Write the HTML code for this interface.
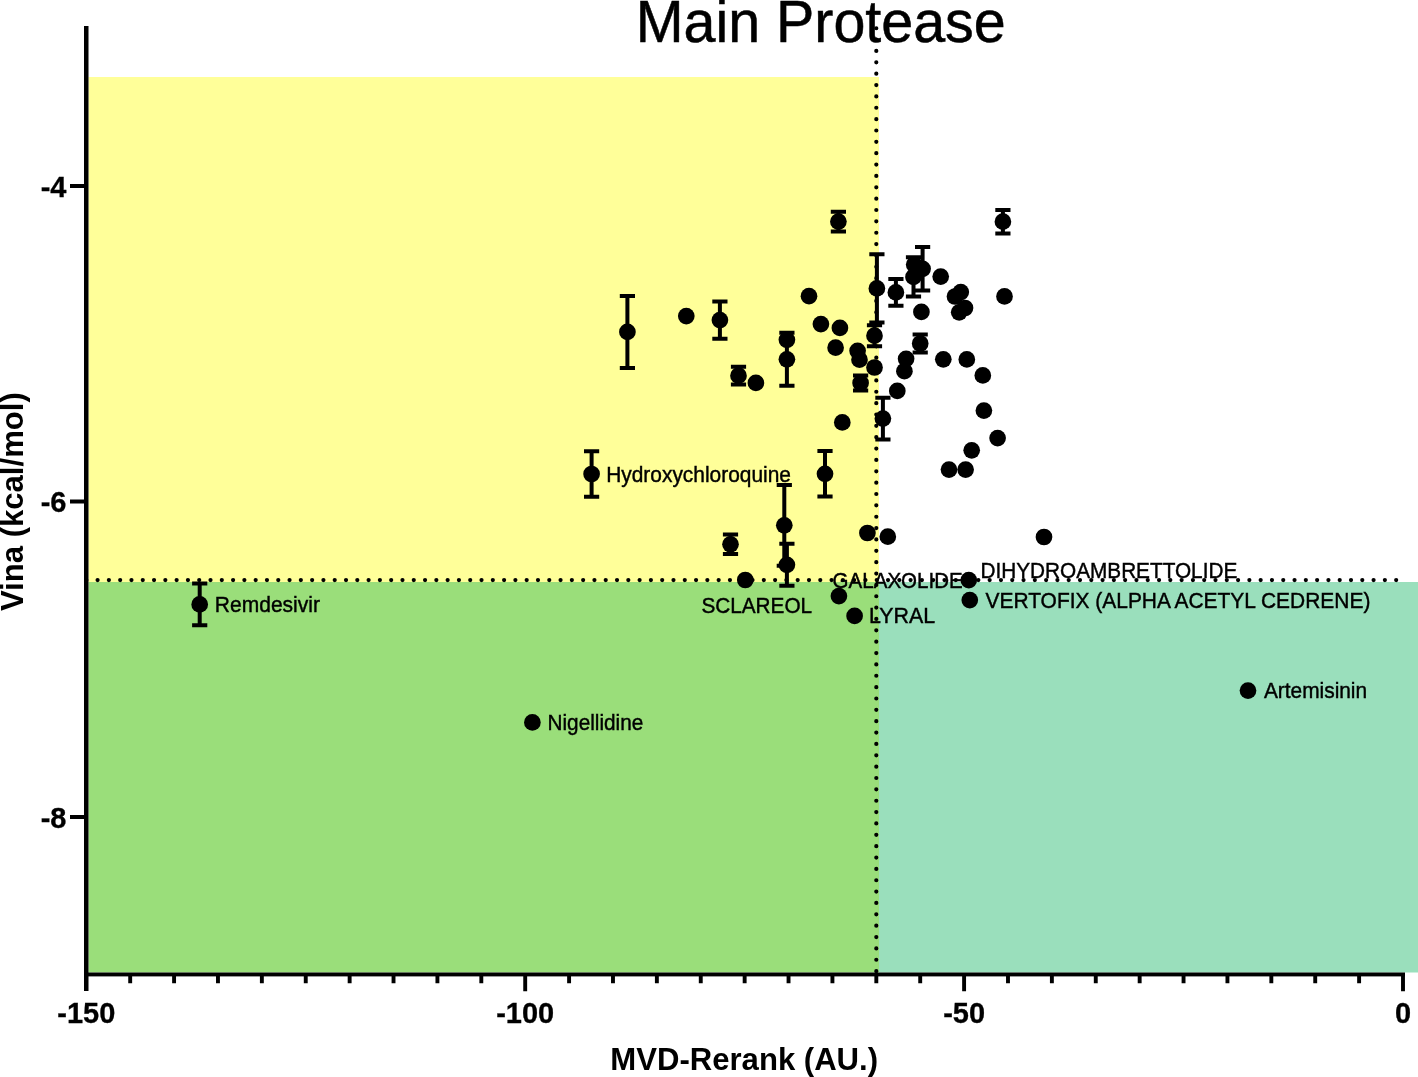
<!DOCTYPE html>
<html><head><meta charset="utf-8"><title>Main Protease</title>
<style>
html,body{margin:0;padding:0;background:#fff;width:1418px;height:1077px;overflow:hidden}
svg{display:block;will-change:transform}
text{font-family:'Liberation Sans', sans-serif;fill:#000}
.lb{font-size:20.75px;stroke:#000;stroke-width:0.4px}
.tk{font-size:29px;font-weight:bold;stroke:#000;stroke-width:0.3px}
</style></head><body>
<svg width="1418" height="1077" viewBox="0 0 1418 1077">
<rect x="0" y="0" width="1418" height="1077" fill="#fff"/>

<rect x="88.5" y="77" width="790.5" height="505" fill="#ffff99"/>
<rect x="88.5" y="582" width="790.5" height="390.5" fill="#9ade7a"/>
<rect x="879" y="582" width="539" height="390.5" fill="#9adfbc"/>
<line x1="86.30" y1="580.1" x2="1403.00" y2="580.1" stroke="#000" stroke-width="4.2" stroke-linecap="round" stroke-dasharray="0 11.292"/>
<line x1="876.3" y1="28.25" x2="876.3" y2="974.75" stroke="#000" stroke-width="4.2" stroke-linecap="round" stroke-dasharray="0 11.36"/>
<text class="lb" transform="translate(606.18 481.70) scale(1.0078 1.06)">Hydroxychloroquine</text>
<text class="lb" transform="translate(701.40 612.80) scale(1.0009 1.06)">SCLAREOL</text>
<text class="lb" transform="translate(832.61 587.80) scale(0.9900 1.06)">GALAXOLIDE</text>
<text class="lb" transform="translate(869.04 622.70) scale(1.0323 1.06)">LYRAL</text>
<text class="lb" transform="translate(980.40 577.80) scale(1.0016 1.06)">DIHYDROAMBRETTOLIDE</text>
<text class="lb" transform="translate(985.50 607.80) scale(1.0100 1.06)">VERTOFIX (ALPHA ACETYL CEDRENE)</text>
<text class="lb" transform="translate(214.87 611.90) scale(1.0129 1.06)">Remdesivir</text>
<text class="lb" transform="translate(547.50 729.60) scale(1.0011 1.06)">Nigellidine</text>
<text class="lb" transform="translate(1263.90 698.00) scale(1.0059 1.06)">Artemisinin</text>
<g fill="#000" stroke="#000">
<path d="M627.4 295.9V367.9M619.8 295.9H635.0M619.8 367.9H635.0" fill="none" stroke-width="4"/>
<circle cx="627.4" cy="331.9" r="8.35" stroke="none"/>
<circle cx="686.3" cy="316.1" r="8.35" stroke="none"/>
<path d="M719.9 301.5V338.7M712.3 301.5H727.5M712.3 338.7H727.5" fill="none" stroke-width="4"/>
<circle cx="719.9" cy="320.1" r="8.35" stroke="none"/>
<path d="M738.5 366.8V384.6M730.9 366.8H746.1M730.9 384.6H746.1" fill="none" stroke-width="4"/>
<circle cx="738.5" cy="375.7" r="8.35" stroke="none"/>
<circle cx="755.9" cy="382.9" r="8.35" stroke="none"/>
<circle cx="786.9" cy="339.8" r="8.35" stroke="none"/>
<path d="M786.9 332.8V385.8M779.3 332.8H794.5M779.3 385.8H794.5" fill="none" stroke-width="4"/>
<circle cx="786.9" cy="359.3" r="8.35" stroke="none"/>
<circle cx="809.0" cy="296.2" r="8.35" stroke="none"/>
<circle cx="820.9" cy="324.1" r="8.35" stroke="none"/>
<circle cx="839.9" cy="327.9" r="8.35" stroke="none"/>
<circle cx="835.6" cy="347.7" r="8.35" stroke="none"/>
<circle cx="857.6" cy="350.8" r="8.35" stroke="none"/>
<circle cx="859.5" cy="359.7" r="8.35" stroke="none"/>
<circle cx="874.5" cy="367.5" r="8.35" stroke="none"/>
<path d="M860.6 375.6V390.4M853.0 375.6H868.2M853.0 390.4H868.2" fill="none" stroke-width="4"/>
<circle cx="860.6" cy="383.0" r="8.35" stroke="none"/>
<path d="M876.9 254.3V322.5M869.3 254.3H884.5M869.3 322.5H884.5" fill="none" stroke-width="4"/>
<circle cx="876.9" cy="288.4" r="8.35" stroke="none"/>
<path d="M874.5 325.2V346.2M866.9 325.2H882.1M866.9 346.2H882.1" fill="none" stroke-width="4"/>
<circle cx="874.5" cy="335.7" r="8.35" stroke="none"/>
<path d="M838.4 211.8V231.4M830.8 211.8H846.0M830.8 231.4H846.0" fill="none" stroke-width="4"/>
<circle cx="838.4" cy="221.6" r="8.35" stroke="none"/>
<path d="M895.9 279.0V305.8M888.3 279.0H903.5M888.3 305.8H903.5" fill="none" stroke-width="4"/>
<circle cx="895.9" cy="292.4" r="8.35" stroke="none"/>
<path d="M922.6 247.1V290.5M915.0 247.1H930.2M915.0 290.5H930.2" fill="none" stroke-width="4"/>
<circle cx="922.6" cy="268.8" r="8.35" stroke="none"/>
<circle cx="914.2" cy="264.6" r="8.35" stroke="none"/>
<path d="M913.5 257.3V296.5M905.9 257.3H921.1M905.9 296.5H921.1" fill="none" stroke-width="4"/>
<circle cx="913.5" cy="276.9" r="8.35" stroke="none"/>
<circle cx="940.7" cy="276.6" r="8.35" stroke="none"/>
<circle cx="960.8" cy="292.1" r="8.35" stroke="none"/>
<circle cx="955.0" cy="296.5" r="8.35" stroke="none"/>
<circle cx="965.0" cy="308.0" r="8.35" stroke="none"/>
<circle cx="959.2" cy="312.3" r="8.35" stroke="none"/>
<circle cx="1004.5" cy="296.4" r="8.35" stroke="none"/>
<path d="M1002.9 210.0V233.4M995.3 210.0H1010.5M995.3 233.4H1010.5" fill="none" stroke-width="4"/>
<circle cx="1002.9" cy="221.7" r="8.35" stroke="none"/>
<circle cx="921.4" cy="311.9" r="8.35" stroke="none"/>
<path d="M920.2 334.5V352.5M912.6 334.5H927.8M912.6 352.5H927.8" fill="none" stroke-width="4"/>
<circle cx="920.2" cy="343.5" r="8.35" stroke="none"/>
<circle cx="906.1" cy="358.8" r="8.35" stroke="none"/>
<circle cx="904.4" cy="371.2" r="8.35" stroke="none"/>
<circle cx="897.3" cy="390.9" r="8.35" stroke="none"/>
<circle cx="943.3" cy="359.3" r="8.35" stroke="none"/>
<circle cx="966.8" cy="359.4" r="8.35" stroke="none"/>
<circle cx="982.8" cy="375.4" r="8.35" stroke="none"/>
<circle cx="983.9" cy="410.6" r="8.35" stroke="none"/>
<circle cx="997.6" cy="438.1" r="8.35" stroke="none"/>
<circle cx="971.7" cy="450.3" r="8.35" stroke="none"/>
<circle cx="949.0" cy="469.6" r="8.35" stroke="none"/>
<circle cx="965.6" cy="469.6" r="8.35" stroke="none"/>
<path d="M882.9 397.7V439.5M875.3 397.7H890.5M875.3 439.5H890.5" fill="none" stroke-width="4"/>
<circle cx="882.9" cy="418.6" r="8.35" stroke="none"/>
<circle cx="842.3" cy="422.4" r="8.35" stroke="none"/>
<path d="M825.0 451.0V496.6M817.4 451.0H832.6M817.4 496.6H832.6" fill="none" stroke-width="4"/>
<circle cx="825.0" cy="473.8" r="8.35" stroke="none"/>
<path d="M591.6 451.2V496.8M584.0 451.2H599.2M584.0 496.8H599.2" fill="none" stroke-width="4"/>
<circle cx="591.6" cy="474.0" r="8.35" stroke="none"/>
<path d="M730.5 534.6V554.0M722.9 534.6H738.1M722.9 554.0H738.1" fill="none" stroke-width="4"/>
<circle cx="730.5" cy="544.3" r="8.35" stroke="none"/>
<path d="M784.3 484.9V565.7M776.7 484.9H791.9M776.7 565.7H791.9" fill="none" stroke-width="4"/>
<circle cx="784.3" cy="525.3" r="8.35" stroke="none"/>
<path d="M786.9 543.8V585.8M779.3 543.8H794.5M779.3 585.8H794.5" fill="none" stroke-width="4"/>
<circle cx="786.9" cy="564.8" r="8.35" stroke="none"/>
<circle cx="745.3" cy="580.0" r="8.35" stroke="none"/>
<circle cx="867.4" cy="533.0" r="8.35" stroke="none"/>
<circle cx="887.8" cy="536.7" r="8.35" stroke="none"/>
<circle cx="838.9" cy="596.1" r="8.35" stroke="none"/>
<circle cx="854.6" cy="615.9" r="8.35" stroke="none"/>
<circle cx="968.8" cy="580.1" r="8.35" stroke="none"/>
<circle cx="969.8" cy="600.1" r="8.35" stroke="none"/>
<circle cx="1044.0" cy="537.0" r="8.35" stroke="none"/>
<path d="M199.7 583.6V625.2M192.1 583.6H207.3M192.1 625.2H207.3" fill="none" stroke-width="4"/>
<circle cx="199.7" cy="604.4" r="8.35" stroke="none"/>
<circle cx="532.4" cy="722.4" r="8.35" stroke="none"/>
<circle cx="1248.0" cy="690.6" r="8.35" stroke="none"/>
</g>
<rect x="84.0" y="26.0" width="4.5" height="965" fill="#000"/>
<rect x="84.0" y="972.5" width="1321" height="3.9" fill="#000"/>
<path d="M130.19 974.75v8.6M174.08 974.75v8.6M217.97 974.75v8.6M261.86 974.75v8.6M305.75 974.75v8.6M349.64 974.75v8.6M393.53 974.75v8.6M437.42 974.75v8.6M481.31 974.75v8.6M525.20 974.75v16.6M569.09 974.75v8.6M612.98 974.75v8.6M656.87 974.75v8.6M700.76 974.75v8.6M744.65 974.75v8.6M788.54 974.75v8.6M832.43 974.75v8.6M876.32 974.75v8.6M920.21 974.75v8.6M964.10 974.75v16.6M1007.99 974.75v8.6M1051.88 974.75v8.6M1095.77 974.75v8.6M1139.66 974.75v8.6M1183.55 974.75v8.6M1227.44 974.75v8.6M1271.33 974.75v8.6M1315.22 974.75v8.6M1359.11 974.75v8.6M1403.00 974.75v16.6M86.30 186.00H70M86.30 501.50H70M86.30 817.00H70" fill="none" stroke="#000" stroke-width="3.9"/>
<text class="tk" text-anchor="middle" transform="translate(86.30 1022.6) scale(1 1.04)">-150</text>
<text class="tk" text-anchor="middle" transform="translate(525.20 1022.6) scale(1 1.04)">-100</text>
<text class="tk" text-anchor="middle" transform="translate(964.10 1022.6) scale(1 1.04)">-50</text>
<text class="tk" text-anchor="middle" transform="translate(1403.00 1022.6) scale(1 1.04)">0</text>
<text class="tk" text-anchor="end" transform="translate(66.5 196.50) scale(1 1.04)">-4</text>
<text class="tk" text-anchor="end" transform="translate(66.5 512.00) scale(1 1.04)">-6</text>
<text class="tk" text-anchor="end" transform="translate(66.5 827.50) scale(1 1.04)">-8</text>
<text transform="translate(635.7 41.6) scale(1 1.04)" style="font-size:57.4px;stroke:#000;stroke-width:0.5px">Main Protease</text>
<text x="610.3" y="1070.2" style="font-size:31.1px;font-weight:bold">MVD-Rerank (AU.)</text>
<text transform="translate(22.7 611.1) rotate(-90)" x="0" y="0" style="font-size:31.1px;font-weight:bold">Vina (kcal/mol)</text>
</svg></body></html>
